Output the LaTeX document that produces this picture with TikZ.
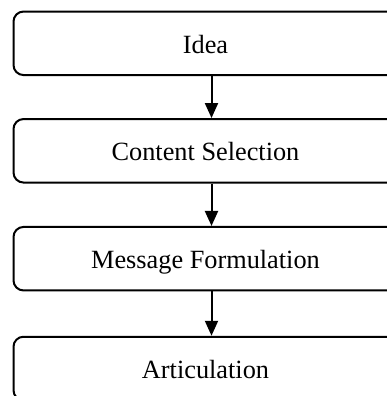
\documentclass[tikz,border=0pt]{standalone}
\usepackage{fontspec}
\setmainfont{Liberation Serif}
\usetikzlibrary{arrows.meta}

\tikzset{
  stage/.style={draw=black, line width=2pt, rounded corners=10pt,
    minimum width=384pt, minimum height=63.5pt, inner sep=0pt,
    font=\fontsize{26.3pt}{30pt}\selectfont,
    text height=20pt, text depth=0pt},
  flow/.style={line width=2pt, -{Triangle[length=15pt,width=13pt]}}
}

\begin{document}
\begin{tikzpicture}[x=1pt,y=-1pt]
  \useasboundingbox (0,0) rectangle (387,396);
  \clip (0,0) rectangle (387,396);

  \node[stage] (idea)    at (205.5,43.3)  {Idea};
  \node[stage] (content) at (205.5,150.8) {Content Selection};
  \node[stage] (message) at (205.5,258.7) {Message Formulation};
  \node[stage] (artic)   at (205.5,368.5) {Articulation};

  % vertical line on which the connectors run
  \coordinate (axis) at (211.5,0);

  \draw[flow] (idea.south -| axis) -- (content.north -| axis);
  \draw[flow] (content.south -| axis) -- (message.north -| axis);
  \draw[flow] (message.south -| axis) -- (artic.north -| axis);
\end{tikzpicture}
\end{document}
